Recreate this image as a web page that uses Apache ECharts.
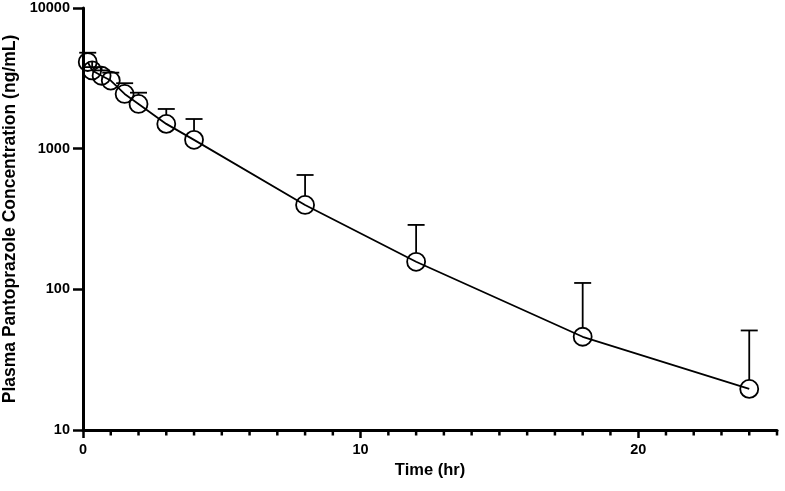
<!DOCTYPE html>
<html>
<head>
<meta charset="utf-8">
<script src="https://cdn.jsdelivr.net/npm/echarts@6/dist/echarts.min.js"></script>
<style>
  html, body { margin: 0; padding: 0; background: #fff; }
  #chart { width: 785px; height: 491px; }
</style>
</head>
<body>
<div id="chart"></div>
<script>
// sampling times (hr) and mean concentration (ng/mL)
var times = [0.17, 0.33, 0.67, 1, 1.5, 2, 3, 4, 8, 12, 18, 24];
var means = [4130, 3600, 3300, 3050, 2450, 2080, 1500, 1155, 398, 157, 46, 19.6];
// mean + SD (top of error bar)
var upper = [4810, 3800, 3600, 3470, 2920, 2500, 1915, 1625, 650, 287, 111, 51];

var yTicks = [10, 100, 1000, 10000];
// hourly minor ticks on the time axis
var hourTicks = [1, 2, 3, 4, 5, 6, 7, 8, 9, 11, 12, 13, 14, 15, 16, 17, 18, 19, 21, 22, 23, 24, 25];

var lineData = times.map(function (t, i) { return [t, means[i]]; });
var errData = times.map(function (t, i) { return [t, means[i], upper[i]]; });
var tickData = hourTicks.map(function (t) { return [t, yTicks[0]]; });

var R = 9; // circle radius in px
var FONT = 'Liberation Sans';

var chart = echarts.init(document.getElementById('chart'));
chart.setOption({
  animation: false,
  grid: { left: 83, right: 8, top: 8, bottom: 61, outerBoundsMode: 'none' },
  xAxis: {
    type: 'value',
    min: 0,
    max: 25,
    interval: 10,
    name: 'Time (hr)',
    nameLocation: 'middle',
    nameGap: 31,
    nameTextStyle: { fontFamily: FONT, fontWeight: 'bold', fontSize: 16.5, color: '#000' },
    axisLine: { lineStyle: { color: '#000', width: 3 } },
    axisTick: { length: 8, lineStyle: { color: '#000', width: 2.5 } },
    axisLabel: {
      margin: 12,
      showMaxLabel: false,
      fontFamily: FONT, fontWeight: 'bold', fontSize: 14.5, color: '#000'
    },
    splitLine: { show: false }
  },
  yAxis: {
    type: 'log',
    logBase: 10,
    min: yTicks[0],
    max: yTicks[yTicks.length - 1],
    name: 'Plasma Pantoprazole Concentration (ng/mL)',
    nameLocation: 'middle',
    nameGap: 63,
    nameTextStyle: { fontFamily: FONT, fontWeight: 'bold', fontSize: 17.5, color: '#000' },
    axisLine: { show: true, lineStyle: { color: '#000', width: 3 } },
    axisTick: { length: 10, lineStyle: { color: '#000', width: 2.5 } },
    axisLabel: {
      margin: 13,
      fontFamily: FONT, fontWeight: 'bold', fontSize: 14.5, color: '#000',
      formatter: function (v) { return String(Math.round(v)); }
    },
    splitLine: { show: false },
    minorTick: { show: false }
  },
  series: [
    {
      // minor ticks below the time axis
      type: 'custom',
      data: tickData,
      clip: false,
      silent: true,
      z: 5,
      renderItem: function (params, api) {
        var p = api.coord([api.value(0), api.value(1)]);
        return {
          type: 'line',
          shape: { x1: p[0], y1: p[1], x2: p[0], y2: p[1] + 5.5 },
          style: { stroke: '#000', lineWidth: 2.5 }
        };
      }
    },
    {
      type: 'custom',
      data: errData,
      z: 3,
      renderItem: function (params, api) {
        var c = api.coord([api.value(0), api.value(1)]);
        var top = api.coord([api.value(0), api.value(2)]);
        var style = { stroke: '#000', lineWidth: 1.8 };
        return {
          type: 'group',
          children: [
            { type: 'line', shape: { x1: c[0], y1: c[1] - R, x2: top[0], y2: top[1] }, style: style },
            { type: 'line', shape: { x1: top[0] - 8.5, y1: top[1], x2: top[0] + 8.5, y2: top[1] }, style: style }
          ]
        };
      }
    },
    {
      type: 'line',
      data: lineData,
      z: 4,
      symbol: 'circle',
      symbolSize: R * 2,
      lineStyle: { color: '#000', width: 1.8 },
      itemStyle: { color: 'rgba(0,0,0,0)', borderColor: '#000', borderWidth: 1.8 }
    }
  ]
});
</script>
</body>
</html>
